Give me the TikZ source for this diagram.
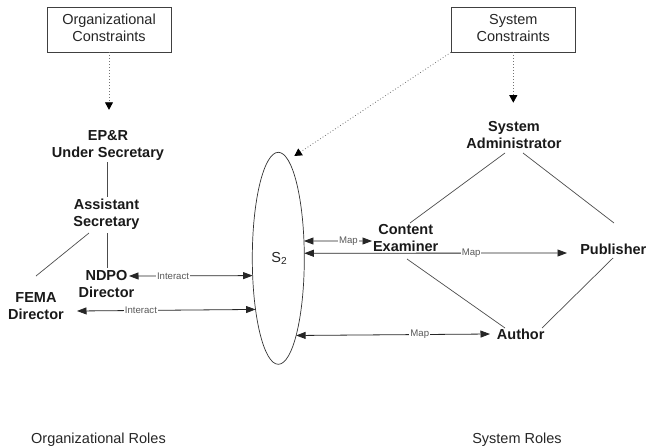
\documentclass[tikz,border=0pt]{standalone}
\usepackage{fontspec}
\setmainfont{Liberation Sans}
\usetikzlibrary{shapes.geometric,arrows.meta}

\begin{document}
\begin{tikzpicture}[x=1pt,y=-1pt,
  roletext/.style={font=\bfseries\fontsize{14.5}{17}\selectfont, align=center, inner sep=0pt, text=black!90},
  constraint/.style={draw=black!75, line width=0.8pt, minimum width=124pt, minimum height=45pt,
    inner sep=0pt, align=center, font=\fontsize{14.5}{17}\selectfont, text=black!85},
  caption/.style={font=\fontsize{14.5}{17}\selectfont, inner sep=0pt, text=black!85},
  hier/.style={draw=black!70, line width=0.7pt},
  link/.style={draw=black!85, line width=0.8pt,
    {Triangle[length=9.5pt,width=7pt]}-{Triangle[length=9.5pt,width=7pt]}},
  linklabel/.style={font=\fontsize{9.6}{11}\selectfont, text=black!65, fill=white, inner sep=1pt},
  influence/.style={draw=black!55, line width=0.8pt, dash pattern=on 0.8pt off 2.2pt,
    -{Triangle[length=7.5pt,width=8pt,color=black]}},
]
\useasboundingbox (0,0) rectangle (647,447);

% constraint boxes
\node[constraint] (orgc) at (109,29.5) {\strut Organizational\\\strut Constraints};
\node[constraint] (sysc) at (513.3,29.5) {\strut System\\\strut Constraints};

% organizational roles
\node[roletext] (epr)  at (108,145.8)   {\strut EP\&R\\\strut Under Secretary};
\node[roletext] (asst) at (106.5,215)   {\strut Assistant\\\strut Secretary};
\node[roletext] (ndpo) at (106.5,285.6) {\strut NDPO\\\strut Director};
\node[roletext] (fema) at (36,307.3)    {\strut FEMA\\\strut Director};

% system roles
\node[roletext] (admin)     at (514,137)     {\strut System\\\strut Administrator};
\node[roletext] (content)   at (405.7,239.1) {\strut Content\\\strut Examiner};
\node[roletext] (publisher) at (613.3,251)   {\strut Publisher};
\node[roletext] (author)    at (520.7,336.1) {\strut Author};

% the shared space
\node[draw=black!80, line width=0.7pt, ellipse, minimum width=52pt, minimum height=212pt,
  inner sep=0pt, outer sep=0pt, font=\fontsize{14.5}{17}\selectfont, text=black!85]
  (s2) at (278.3,258.3) {\hspace{2pt}S\textsubscript{2}};

% captions
\node[caption] (orgroles) at (98.5,440.3) {\strut Organizational Roles};
\node[caption] (sysroles) at (517,439.8)  {\strut System Roles};

% organizational hierarchy
\draw[hier] ([shift={(-1,16.2)}]epr.center) -- ([shift={(0.5,-18)}]asst.center);
\draw[hier] ([shift={(0.5,18)}]asst.center) -- ([shift={(0.5,-17.6)}]ndpo.center);
\draw[hier] ([shift={(-17.5,18)}]asst.center) -- ([shift={(0,-31.3)}]fema.center);

% system hierarchy
\draw[hier] ([shift={(-9,16)}]admin.center) -- ([shift={(4.3,-16.1)}]content.center);
\draw[hier] ([shift={(9,16)}]admin.center) -- ([shift={(0.7,-28)}]publisher.center);
\draw[hier] ([shift={(1.3,19.9)}]content.center) -- ([shift={(-15.7,-8.1)}]author.center);
\draw[hier] ([shift={(-0.3,7)}]publisher.center) -- ([shift={(21.3,-8.1)}]author.center);

% constraints acting on roles and space
\draw[influence] (orgc.south) -- ([shift={(1,-36)}]epr.center);
\draw[influence] (sysc.south) -- ([shift={(-0.7,-34.3)}]admin.center);
\draw[influence] (sysc.south west) -- ([shift={(16,-102.3)}]s2.center);

% interactions and mappings
\draw[link] ([shift={(22.5,-9.6)}]ndpo.center) -- (s2.214.63)
  node[linklabel, pos=0.356] {Interact};
\draw[link] ([shift={(41,3.7)}]fema.center) -- (s2.246.83)
  node[linklabel, pos=0.358] {Interact};
\draw[link] (s2.34.0) -- ([shift={(-33.7,1.9)}]content.center)
  node[linklabel, pos=0.654] {Map};
\draw[link] (s2.11.53) -- ([shift={(-46.3,2)}]publisher.center)
  node[linklabel, pos=0.635] {Map};
\draw[link] (s2.283.52) -- ([shift={(-30.7,-2.1)}]author.center)
  node[linklabel, pos=0.638] {Map};
\end{tikzpicture}
\end{document}
